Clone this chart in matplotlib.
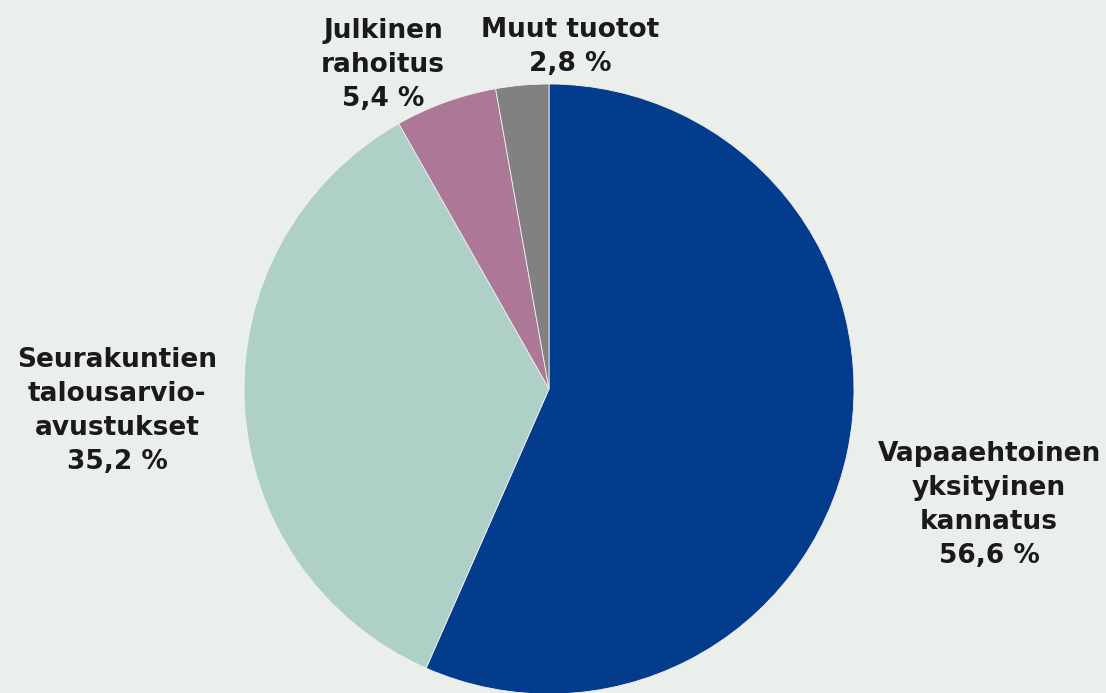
import matplotlib
matplotlib.use('Agg')
import matplotlib.pyplot as plt

# Data (percentages), clockwise from the top
labels = ['Vapaaehtoinen\nyksityinen\nkannatus', 'Seurakuntien\ntalousarvio-\navustukset',
          'Julkinen\nrahoitus', 'Muut tuotot']
values = [56.6, 35.2, 5.4, 2.8]
value_texts = ['56,6 %', '35,2 %', '5,4 %', '2,8 %']
colors = ['#033b8d', '#afd0c7', '#ad7898', '#818181']

W, H = 1106, 693
bg = '#ebefec'

fig = plt.figure(figsize=(W / 100, H / 100), dpi=100, facecolor=bg)
ax = fig.add_axes([0, 0, 1, 1])
ax.set_facecolor(bg)

# pixel coordinate system, y flipped so pie goes clockwise from top
cx, cy, r = 549, H - 389, 305
ax.pie(values, colors=colors, startangle=90, counterclock=False,
       center=(cx, cy), radius=r, frame=True,
       wedgeprops=dict(edgecolor='#f0f0f0', linewidth=0.6))
ax.set_xlim(0, W)
ax.set_ylim(0, H)
ax.set_aspect('equal')
ax.axis('off')

# label positions (pixels from top-left)
label_pos = [(989, 505), (117, 411), (383, 65), (570, 47)]
for lab, val, (x, y) in zip(labels, value_texts, label_pos):
    ax.text(x, H - y, lab + '\n' + val, ha='center', va='center',
            fontsize=19, fontweight='bold', color='#1a1a1a',
            family='DejaVu Sans', linespacing=1.4)

fig.savefig('out.png', dpi=100, facecolor=bg)
